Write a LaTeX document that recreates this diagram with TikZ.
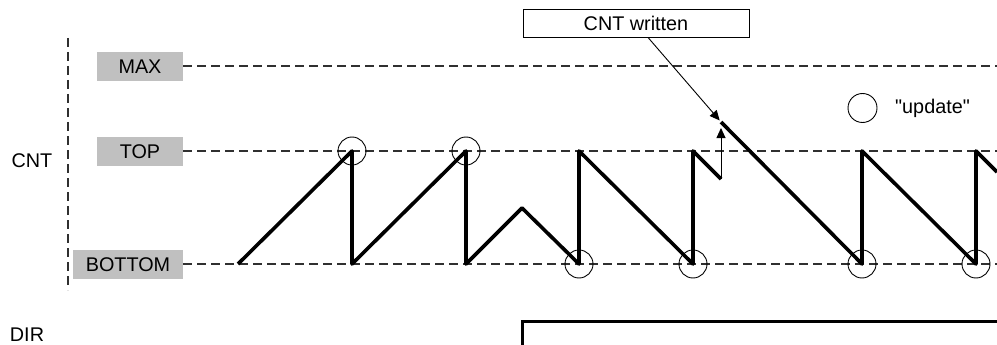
\documentclass[tikz,border=0pt]{standalone}
\usepackage{fontspec}
\setmainfont{Liberation Sans}[Ligatures=TeXOff]
\usetikzlibrary{arrows.meta}
\definecolor{lvlgray}{HTML}{C0C0C0}
\definecolor{dashgray}{HTML}{303030}
\begin{document}
\begin{tikzpicture}[x=1pt,y=-1pt,
  txt/.style={font=\fontsize{19.8}{24}\selectfont, inner sep=0pt},
  lvl/.style={txt, fill=lvlgray, draw=none, minimum height=29pt},
  lvlline/.style={draw=dashgray, line width=1.4pt, dash pattern=on 9pt off 5pt},
  wave/.style={line width=3.6pt, line join=round},
  upd/.style={draw, line width=0.9pt, circle, minimum size=28pt, inner sep=0pt},
  arr/.style={line width=0.9pt, -{Triangle[length=10pt,width=9pt]}},
  note/.style={txt, draw, line width=0.9pt, fill=white, minimum width=226pt, minimum height=28pt}
]
\useasboundingbox (0,0) rectangle (997,345);

% axis separator
\draw[lvlline] (68,38) -- (68,290);

% labels
\node[txt] (cnt) at (32,161) {CNT};
\node[txt] (dir) at (27,335) {DIR};

% level boxes
\node[lvl, minimum width=86pt] (max) at (140,66.5) {MAX};
\node[lvl, minimum width=86pt] (top) at (140,151.5) {TOP};
\node[lvl, minimum width=110pt] (bot) at (128,264.5) {BOTTOM};

\coordinate (maxE) at (997,66);
\coordinate (topE) at (997,151);
\coordinate (botE) at (997,264);
\draw[lvlline] (max.east |- maxE) -- (maxE);
\draw[lvlline] (top.east |- topE) -- (topE);
\draw[lvlline] (bot.east |- botE) -- (botE);

% waveform points
\coordinate (p0) at (238,264);
\coordinate (p1) at (352,151);
\coordinate (p2) at (352,264);
\coordinate (p3) at (466,151);
\coordinate (p4) at (466,264);
\coordinate (p5) at (522,208);
\coordinate (p6) at (579,264);
\coordinate (p7) at (579,151);
\coordinate (p8) at (693,264);
\coordinate (p9) at (693,151);
\coordinate (p10) at (721,179);
\coordinate (p11) at (721,122);
\coordinate (p12) at (862,264);
\coordinate (p13) at (862,151);
\coordinate (p14) at (976,264);
\coordinate (p15) at (976,151);
\coordinate (p16) at (997,172);

\draw[wave] (p0) -- (p1) -- (p2) -- (p3) -- (p4) -- (p5) -- (p6) -- (p7) -- (p8) -- (p9) -- (p10);
\draw[wave] (p11) -- (p12) -- (p13) -- (p14) -- (p15) -- (p16);

% update markers
\node[upd] (u1) at (p1) {};
\node[upd] (u2) at (p3) {};
\node[upd] (u3) at (p6) {};
\node[upd] (u4) at (p8) {};
\node[upd] (u5) at (p12) {};
\node[upd] (u6) at (p14) {};

% legend
\node[upd, minimum size=29pt] (leg) at (862.5,108) {};
\node[txt, anchor=west] (legt) at (895,108) {"update"};

% CNT written
\node[note] (cw) at (636,23) {CNT written};
\draw[arr, shorten >=2pt] ([xshift=12pt]cw.south) -- (p11);
\draw[arr, shorten >=6pt] (p10) -- (p11);

% DIR signal
\coordinate (d0) at (522,345);
\coordinate (d1) at (522,321);
\coordinate (d2) at (997,321);
\draw[line width=3pt, line join=miter] (d0) -- (d1) -- (d2);
\end{tikzpicture}
\end{document}
